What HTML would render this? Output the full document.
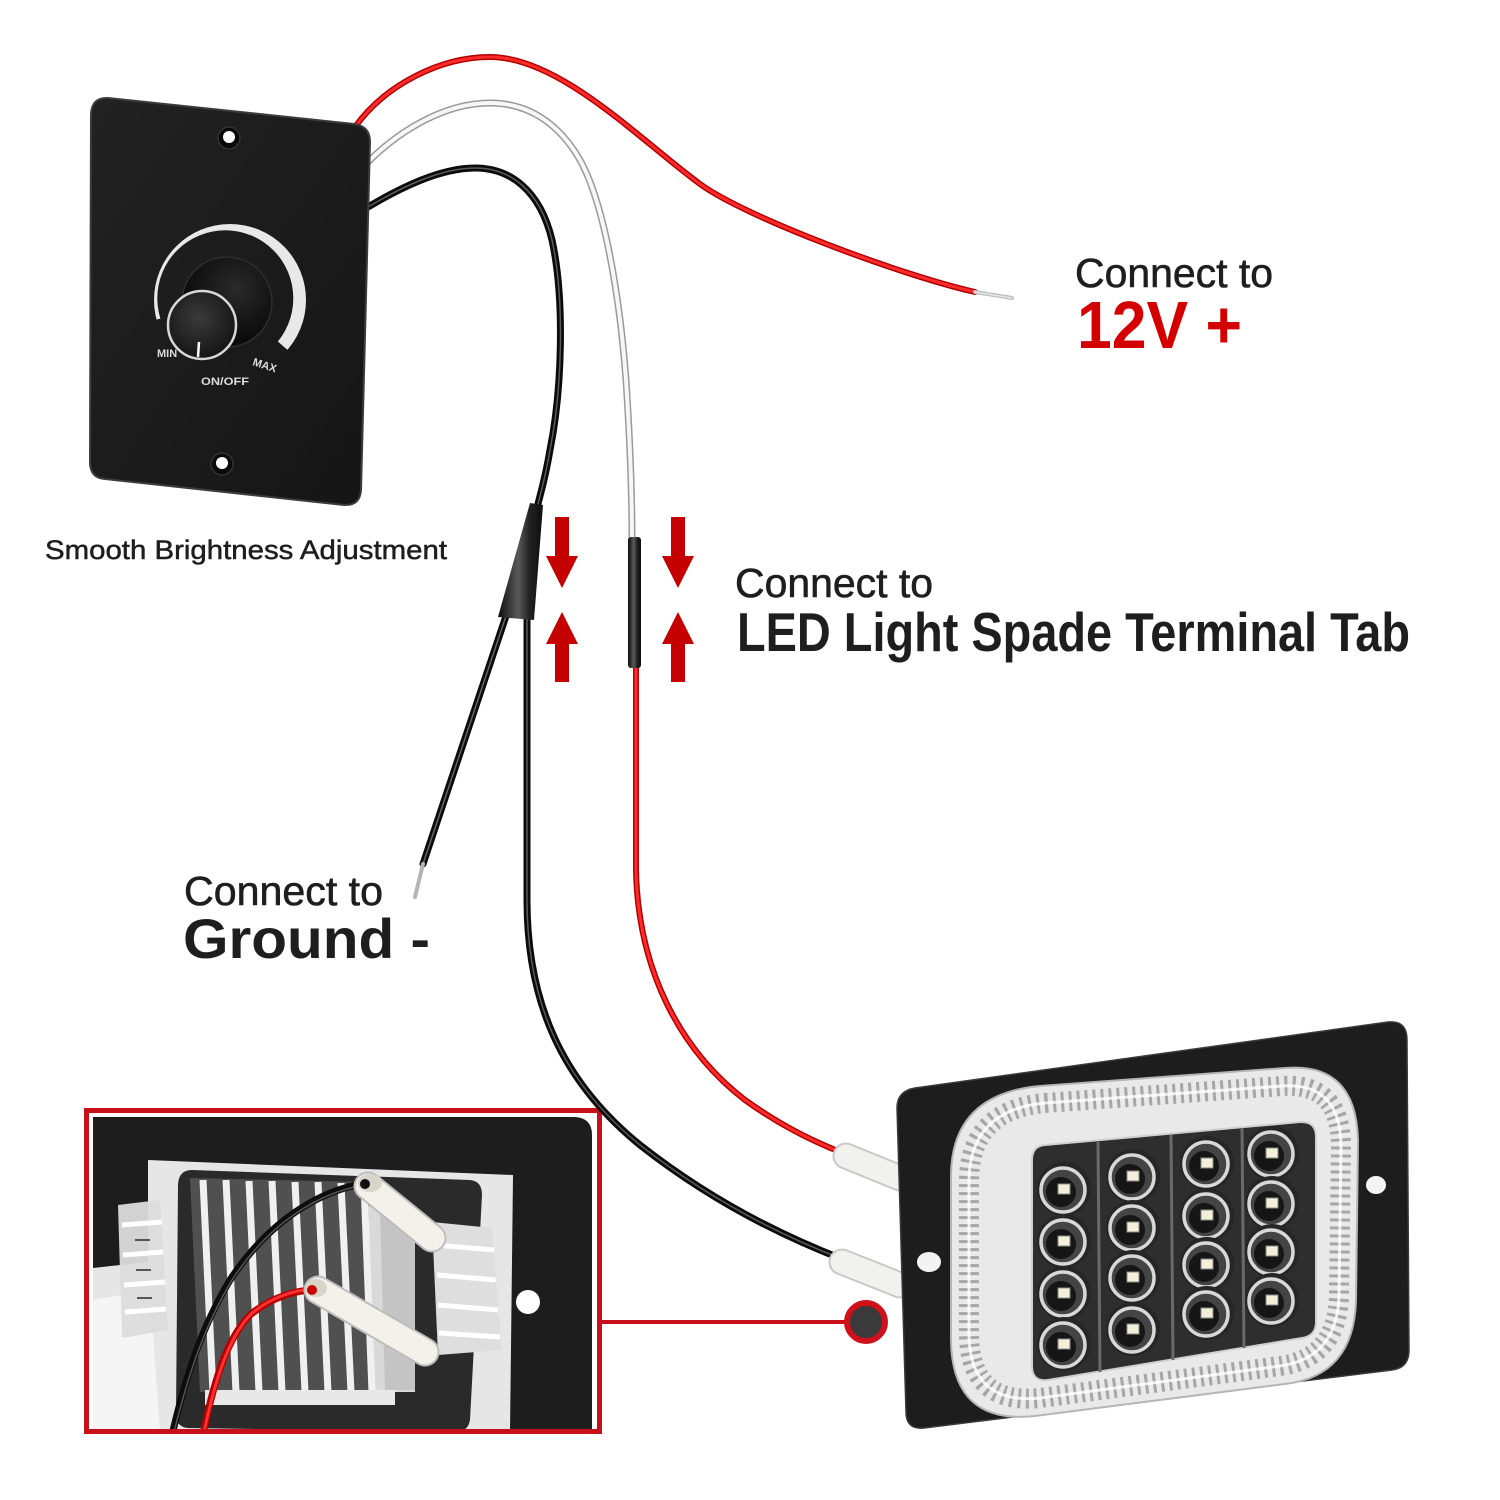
<!DOCTYPE html>
<html>
<head>
<meta charset="utf-8">
<style>
  html,body{margin:0;padding:0;background:#fff;}
  svg{display:block;}
  text{font-family:"Liberation Sans",Arial,sans-serif;}
</style>
</head>
<body>
<svg width="1500" height="1500" viewBox="0 0 1500 1500" xmlns="http://www.w3.org/2000/svg">
  <defs>
    <radialGradient id="capG" cx="0.45" cy="0.4" r="0.6">
      <stop offset="0" stop-color="#3a3a3a"/>
      <stop offset="1" stop-color="#151515"/>
    </radialGradient>
    <radialGradient id="baseG" cx="0.6" cy="0.35" r="0.7">
      <stop offset="0" stop-color="#2a2a2a"/>
      <stop offset="1" stop-color="#050505"/>
    </radialGradient>
    <linearGradient id="plateG" x1="0" y1="0" x2="1" y2="1">
      <stop offset="0" stop-color="#222"/>
      <stop offset="1" stop-color="#151515"/>
    </linearGradient>
    <linearGradient id="shrinkG" x1="0" y1="0" x2="1" y2="0">
      <stop offset="0" stop-color="#0d0d0d"/>
      <stop offset="0.45" stop-color="#5a5a5a"/>
      <stop offset="0.7" stop-color="#222"/>
      <stop offset="1" stop-color="#0d0d0d"/>
    </linearGradient>
    <clipPath id="arcClip">
      <polygon points="230,300 114,331 100,300 100,170 360,170 360,300 321,379"/>
    </clipPath>
    <clipPath id="insetClip">
      <rect x="89" y="1113" width="508" height="316"/>
    </clipPath>
    <g id="led">
      <circle r="27" fill="#262626"/>
      <circle cx="-1" cy="1" r="22" fill="#444" stroke="#d8d8d8" stroke-width="3.5"/>
      <circle cx="-3" cy="3" r="15" fill="#161616"/>
      <rect x="-6" y="-5" width="12" height="10" fill="#f4efd9" stroke="#8a8a8a" stroke-width="1"/>
    </g>
  </defs>

  <!-- ================= INSET ================= -->
  <g clip-path="url(#insetClip)">
    <rect x="89" y="1113" width="508" height="316" fill="#fff"/>
    <path d="M93,1117 L575,1117 Q592,1118 592,1135 L592,1432 L93,1432 Z" fill="#1d1d1d"/>
    <polygon points="148,1160 513,1175 510,1433 93,1433 93,1268 148,1262" fill="#e6e6e6"/>
    <polygon points="93,1300 150,1290 160,1433 93,1433" fill="#f5f5f5"/>
    <path d="M192,1170 L470,1180 Q482,1181 482,1195 L470,1420 Q468,1432 455,1432 L188,1428 Q176,1427 176,1414 L178,1184 Q179,1170 192,1170 Z" fill="#2a2a2a"/>
    <polygon points="360,1205 415,1210 415,1392 362,1392" fill="#d9d9d9"/>
    <polygon points="380,1210 415,1212 415,1390 385,1390" fill="#c4c4c4"/>
    <polygon points="190,1178 368,1182 372,1392 200,1392" fill="#505050"/>
    <g stroke="#f0f0f0" stroke-width="7">
      <line x1="203" y1="1180" x2="213" y2="1392"/>
      <line x1="226" y1="1180" x2="236" y2="1392"/>
      <line x1="249" y1="1181" x2="259" y2="1392"/>
      <line x1="272" y1="1181" x2="282" y2="1392"/>
      <line x1="295" y1="1182" x2="305" y2="1392"/>
      <line x1="318" y1="1182" x2="328" y2="1392"/>
      <line x1="341" y1="1183" x2="351" y2="1392"/>
      <line x1="364" y1="1183" x2="372" y2="1392"/>
    </g>
    <rect x="205" y="1390" width="190" height="15" fill="#e8e8e8"/>
    <polygon points="118,1205 160,1200 168,1330 122,1338" fill="#dcdcdc" opacity="0.95"/>
    <g stroke="#fff" stroke-width="5">
      <line x1="122" y1="1225" x2="162" y2="1222"/>
      <line x1="123" y1="1255" x2="163" y2="1252"/>
      <line x1="124" y1="1285" x2="165" y2="1282"/>
      <line x1="125" y1="1312" x2="166" y2="1309"/>
    </g>
    <g stroke="#555" stroke-width="2">
      <line x1="135" y1="1240" x2="150" y2="1240"/>
      <line x1="136" y1="1270" x2="151" y2="1270"/>
      <line x1="137" y1="1298" x2="152" y2="1298"/>
    </g>
    <polygon points="432,1222 492,1228 502,1350 438,1355" fill="#dedede"/>
    <g stroke="#fff" stroke-width="5">
      <line x1="436" y1="1245" x2="494" y2="1250"/>
      <line x1="437" y1="1275" x2="496" y2="1280"/>
      <line x1="438" y1="1305" x2="498" y2="1310"/>
      <line x1="439" y1="1333" x2="500" y2="1337"/>
    </g>
    <circle cx="528" cy="1302" r="12" fill="#fff"/>
    <path d="M172,1435 C185,1380 200,1330 230,1280 C270,1220 320,1190 367,1183" fill="none" stroke="#0d0d0d" stroke-width="7" stroke-linecap="round"/>
    <path d="M174,1432 C187,1380 202,1330 232,1280 C270,1222 320,1192 365,1185" fill="none" stroke="#555" stroke-width="1.5"/>
    <line x1="368" y1="1186" x2="432" y2="1238" stroke="#bdbdbd" stroke-width="29" stroke-linecap="round"/>
    <line x1="368" y1="1186" x2="432" y2="1238" stroke="#f4f1ea" stroke-width="25" stroke-linecap="round"/>
    <ellipse cx="370" cy="1183" rx="12" ry="9" fill="#d8d4ca"/>
    <circle cx="365" cy="1184" r="5" fill="#111"/>
    <path d="M203,1435 C212,1390 225,1340 250,1315 C270,1298 295,1290 315,1290" fill="none" stroke="#b30000" stroke-width="7" stroke-linecap="round"/>
    <path d="M204,1432 C213,1390 226,1340 251,1314 C271,1297 295,1290 313,1289" fill="none" stroke="#ff3030" stroke-width="3"/>
    <line x1="318" y1="1290" x2="425" y2="1352" stroke="#bdbdbd" stroke-width="29" stroke-linecap="round"/>
    <line x1="318" y1="1290" x2="425" y2="1352" stroke="#f4f1ea" stroke-width="25" stroke-linecap="round"/>
    <ellipse cx="316" cy="1288" rx="11" ry="9" fill="#d8d4ca"/>
    <circle cx="312" cy="1290" r="5" fill="#c00"/>
  </g>
  <rect x="86.5" y="1110.5" width="513" height="321" fill="none" stroke="#c8101a" stroke-width="5"/>

  <!-- ================= WIRES ================= -->
  <g fill="none" stroke-linecap="round">
    <!-- red top -->
    <path id="redTop" d="M355,127 C385,85 440,57 490,57 C560,57 640,140 700,184 C745,217 900,275 975,292" stroke="#b00000" stroke-width="6"/>
    <path d="M355,127 C385,85 440,57 490,57 C560,57 640,140 700,184 C745,217 900,275 975,292" stroke="#ff2a2a" stroke-width="3"/>
    <line x1="975" y1="292" x2="1012" y2="298" stroke="#bdbdbd" stroke-width="4"/>
    <line x1="975" y1="292" x2="1012" y2="298" stroke="#e5e5e5" stroke-width="1.5"/>

    <!-- white -->
    <path d="M368,162 C400,130 445,103 490,103 C530,103 560,125 580,160 C605,205 620,300 626,380 C630,440 632,500 632,540" stroke="#9a9a9a" stroke-width="7"/>
    <path d="M368,162 C400,130 445,103 490,103 C530,103 560,125 580,160 C605,205 620,300 626,380 C630,440 632,500 632,540" stroke="#f7f7f7" stroke-width="4"/>

    <!-- black top -->
    <path d="M368,207 C400,188 440,168 475,168 C510,168 540,190 552,240 C565,300 562,390 550,450 C545,480 540,495 537,508" stroke="#0b0b0b" stroke-width="7"/>
    <path d="M368,207 C400,188 440,168 475,168 C510,168 540,190 552,240 C565,300 562,390 550,450 C545,480 540,495 537,508" stroke="#5a5a5a" stroke-width="1.5"/>

    <!-- black diagonal to ground -->
    <line x1="506" y1="616" x2="423" y2="864" stroke="#0b0b0b" stroke-width="7"/>
    <line x1="506" y1="616" x2="423" y2="864" stroke="#666" stroke-width="1.5"/>
    <line x1="423" y1="864" x2="415" y2="897" stroke="#b5b5b5" stroke-width="4"/>

    <!-- black lower -->
    <path d="M527,616 L527,900 C527,1000 560,1080 640,1145 C710,1200 780,1235 842,1259" stroke="#0b0b0b" stroke-width="7"/>
    <path d="M527,616 L527,900 C527,1000 560,1080 640,1145 C710,1200 780,1235 842,1259" stroke="#5a5a5a" stroke-width="1.5"/>

    <!-- red lower -->
    <path d="M636,665 L636,870 C638,970 680,1050 745,1100 C780,1125 810,1140 845,1154" stroke="#b00000" stroke-width="6"/>
    <path d="M636,665 L636,870 C638,970 680,1050 745,1100 C780,1125 810,1140 845,1154" stroke="#ff2a2a" stroke-width="3"/>
  </g>

  <!-- heat shrinks -->
  <polygon points="530,503 543,505 534,620 498,617" fill="url(#shrinkG)"/>
  <rect x="628" y="537" width="13" height="131" rx="3" fill="url(#shrinkG)"/>

  <!-- arrows -->
  <g fill="#c40000">
    <polygon points="555,517 569,517 569,556 578,556 562,588 546,556 555,556"/>
    <polygon points="562,612 578,644 569,644 569,682 555,682 555,644 546,644"/>
    <polygon points="671,517 685,517 685,556 694,556 678,588 662,556 671,556"/>
    <polygon points="678,612 694,644 685,644 685,682 671,682 671,644 662,644"/>
  </g>

  <!-- ================= DIMMER PLATE ================= -->
  <path d="M108,98 L354,124 Q370,126 370,142 L361,490 Q360,506 344,505 L105,479 Q90,478 90,462 L91,114 Q92,97 108,98 Z" fill="url(#plateG)" stroke="#3c3c3c" stroke-width="2"/>
  <circle cx="229" cy="138" r="11" fill="#0a0a0a" stroke="#333" stroke-width="1.5"/>
  <circle cx="229" cy="137" r="6" fill="#fff"/>
  <circle cx="222" cy="464" r="11" fill="#0a0a0a" stroke="#333" stroke-width="1.5"/>
  <circle cx="222" cy="463" r="6" fill="#fff"/>

  <path clip-path="url(#arcClip)" fill-rule="evenodd" fill="#e8e8e8"
        d="M154,300 A76,76 0 1,0 306,300 A76,76 0 1,0 154,300 Z M157.3,298.3 A68,68 0 1,0 293.3,298.3 A68,68 0 1,0 157.3,298.3 Z"/>
  <circle cx="227" cy="302" r="45" fill="url(#baseG)"/>
  <circle cx="227" cy="302" r="45" fill="none" stroke="#2e2e2e" stroke-width="1.5"/>
  <circle cx="202" cy="325" r="34" fill="url(#capG)" stroke="#d8d8d8" stroke-width="2.5"/>
  <line x1="199" y1="342" x2="198" y2="357" stroke="#fff" stroke-width="2.5"/>
  <g fill="#dcdcdc" font-size="11" font-weight="bold">
    <text x="157" y="357">MIN</text>
    <text x="252" y="365" transform="rotate(18 252 365)">MAX</text>
    <text x="201" y="385" textLength="48" lengthAdjust="spacingAndGlyphs">ON/OFF</text>
  </g>

  <!-- ================= LED LIGHT ================= -->
  <line x1="846" y1="1156" x2="900" y2="1178" stroke="#c9c9c9" stroke-width="27" stroke-linecap="round"/>
  <line x1="846" y1="1156" x2="900" y2="1178" stroke="#f1f1ee" stroke-width="23" stroke-linecap="round"/>
  <line x1="842" y1="1262" x2="900" y2="1285" stroke="#c9c9c9" stroke-width="27" stroke-linecap="round"/>
  <line x1="842" y1="1262" x2="900" y2="1285" stroke="#f1f1ee" stroke-width="23" stroke-linecap="round"/>

  <path d="M915,1088 L1388,1022 Q1407,1020 1407,1040 L1409,1350 Q1409,1368 1392,1370 L924,1428 Q906,1430 906,1412 L897,1108 Q897,1091 915,1088 Z" fill="#1d1d1d" stroke="#3a3a3a" stroke-width="1.5"/>
  <ellipse cx="929" cy="1262" rx="12" ry="10" fill="#f3f3f3"/>
  <ellipse cx="1376" cy="1185" rx="10" ry="9" fill="#f3f3f3"/>

  <polygon points="966,1135 1342,1090 1342,1345 968,1388" fill="#f2f2f2"/>

  <path d="M1040,1086 L1285,1068 Q1356,1062 1358,1140 L1356,1300 Q1354,1376 1285,1384 L1035,1416 Q952,1425 951,1340 L951,1175 Q952,1094 1040,1086 Z" fill="#e9e9e9" stroke="#b5b5b5" stroke-width="2"/>
  <path d="M1045,1103 L1282,1086 Q1340,1082 1341,1145 L1339,1296 Q1337,1358 1280,1366 L1040,1398 Q970,1405 969,1335 L969,1180 Q970,1110 1045,1103 Z" fill="none" stroke="#8f8f8f" stroke-width="20" stroke-dasharray="3 5" opacity="0.75"/>
  <path d="M1045,1103 L1282,1086 Q1340,1082 1341,1145 L1339,1296 Q1337,1358 1280,1366 L1040,1398 Q970,1405 969,1335 L969,1180 Q970,1110 1045,1103 Z" fill="none" stroke="#ffffff" stroke-width="3" opacity="0.8"/>

  <path d="M1045,1145 L1300,1122 Q1316,1121 1316,1137 L1316,1322 Q1316,1336 1302,1338 L1048,1380 Q1032,1382 1032,1366 L1032,1160 Q1032,1146 1045,1145 Z" fill="#2e2e2e" stroke="#d0d0d0" stroke-width="2"/>
  <g stroke="#6a6a6a" stroke-width="3">
    <line x1="1098" y1="1142" x2="1100" y2="1372"/>
    <line x1="1171" y1="1135" x2="1173" y2="1360"/>
    <line x1="1242" y1="1128" x2="1244" y2="1348"/>
  </g>

  <use href="#led" x="1064" y="1189"/>
  <use href="#led" x="1064" y="1241"/>
  <use href="#led" x="1064" y="1293"/>
  <use href="#led" x="1064" y="1344"/>
  <use href="#led" x="1133" y="1176"/>
  <use href="#led" x="1133" y="1227"/>
  <use href="#led" x="1133" y="1277"/>
  <use href="#led" x="1133" y="1329"/>
  <use href="#led" x="1207" y="1163"/>
  <use href="#led" x="1207" y="1215"/>
  <use href="#led" x="1207" y="1264"/>
  <use href="#led" x="1207" y="1313"/>
  <use href="#led" x="1272" y="1153"/>
  <use href="#led" x="1272" y="1203"/>
  <use href="#led" x="1272" y="1251"/>
  <use href="#led" x="1272" y="1300"/>

  <!-- callout -->
  <line x1="599" y1="1322" x2="846" y2="1322" stroke="#c8101a" stroke-width="4"/>
  <circle cx="866" cy="1322" r="19" fill="#3a3a3a" stroke="#d0101a" stroke-width="6"/>

  <!-- ================= TEXT ================= -->
  <g fill="#1e1e1e">
    <text x="1075" y="287" font-size="41" textLength="198" lengthAdjust="spacingAndGlyphs" stroke="#1e1e1e" stroke-width="0.6">Connect to</text>
    <text x="735" y="597" font-size="41" textLength="198" lengthAdjust="spacingAndGlyphs" stroke="#1e1e1e" stroke-width="0.6">Connect to</text>
    <text x="737" y="651" font-size="55" font-weight="bold" textLength="673" lengthAdjust="spacingAndGlyphs">LED Light Spade Terminal Tab</text>
    <text x="184" y="905" font-size="41" textLength="199" lengthAdjust="spacingAndGlyphs" stroke="#1e1e1e" stroke-width="0.6">Connect to</text>
    <text x="183" y="958" font-size="56" font-weight="bold" textLength="247" lengthAdjust="spacingAndGlyphs">Ground -</text>
    <text x="45" y="559" font-size="27" textLength="402" lengthAdjust="spacingAndGlyphs" stroke="#1e1e1e" stroke-width="0.5">Smooth Brightness Adjustment</text>
  </g>
  <text x="1077" y="348" font-size="67" font-weight="bold" fill="#d40000" textLength="165" lengthAdjust="spacingAndGlyphs">12V +</text>
</svg>
</body>
</html>
